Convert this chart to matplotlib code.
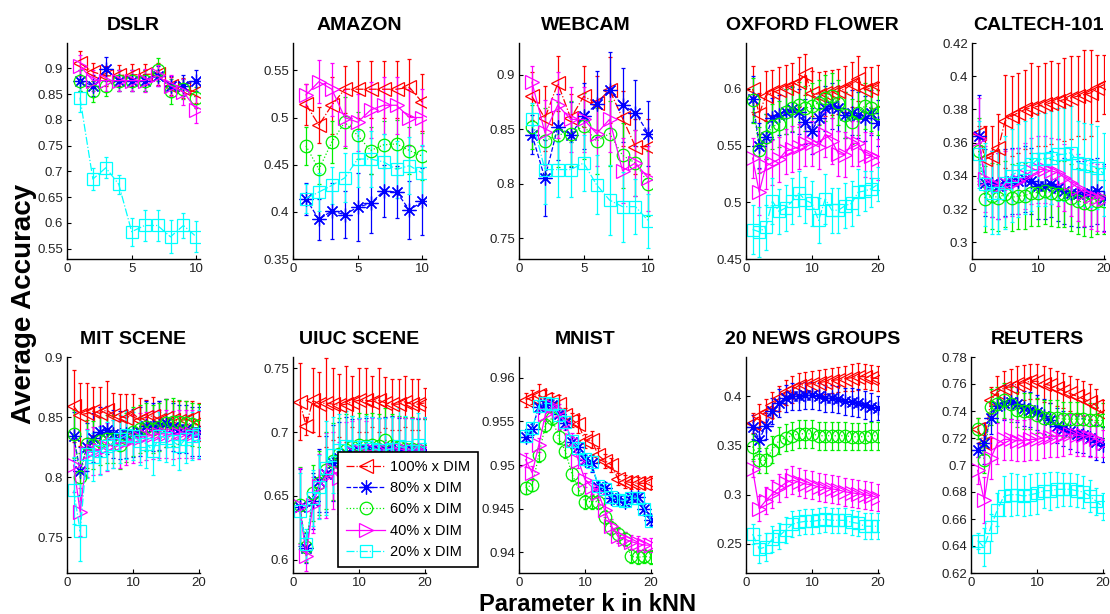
import matplotlib
matplotlib.use('Agg')
import matplotlib.pyplot as plt
from matplotlib.ticker import FormatStrFormatter
from matplotlib.lines import Line2D

plt.rcParams['font.family'] = ['Liberation Sans', 'DejaVu Sans']

# ---------------- data ----------------
K10 = [1, 2, 3, 4, 5, 6, 7, 8, 9, 10]
K20 = [1, 2, 3, 4, 5, 6, 7, 8, 9, 10, 11, 12, 13, 14, 15, 16, 17, 18, 19, 20]

series_labels = ['100% x DIM', '80% x DIM', '60% x DIM', '40% x DIM', '20% x DIM']
panel_titles = ['DSLR', 'AMAZON', 'WEBCAM', 'OXFORD FLOWER', 'CALTECH-101',
                'MIT SCENE', 'UIUC SCENE', 'MNIST', '20 NEWS GROUPS', 'REUTERS']

# DSLR
dslr_100 = [0.910, 0.893, 0.885, 0.886, 0.887, 0.888, 0.889, 0.866, 0.862, 0.853]
dslr_80 = [0.876, 0.866, 0.899, 0.876, 0.876, 0.876, 0.885, 0.865, 0.866, 0.876]
dslr_60 = [0.876, 0.855, 0.866, 0.876, 0.876, 0.876, 0.897, 0.855, 0.860, 0.843]
dslr_40 = [0.905, 0.876, 0.876, 0.876, 0.876, 0.876, 0.886, 0.866, 0.854, 0.820]
dslr_20 = [0.843, 0.685, 0.707, 0.675, 0.583, 0.595, 0.595, 0.573, 0.595, 0.573]
dslr_100_err = [0.024, 0.018, 0.020, 0.020, 0.022, 0.020, 0.022, 0.018, 0.020, 0.020]
dslr_80_err = [0.020, 0.020, 0.023, 0.020, 0.020, 0.020, 0.020, 0.020, 0.020, 0.020]
dslr_60_err = [0.020, 0.020, 0.020, 0.020, 0.020, 0.020, 0.022, 0.025, 0.020, 0.020]
dslr_40_err = [0.020, 0.020, 0.020, 0.020, 0.020, 0.022, 0.020, 0.020, 0.025, 0.027]
dslr_20_err = [0.028, 0.022, 0.020, 0.018, 0.027, 0.030, 0.030, 0.032, 0.025, 0.030]

# AMAZON
amazon_100 = [0.514, 0.492, 0.513, 0.530, 0.530, 0.530, 0.530, 0.530, 0.532, 0.516]
amazon_80 = [0.414, 0.392, 0.401, 0.397, 0.405, 0.409, 0.422, 0.421, 0.402, 0.411]
amazon_60 = [0.470, 0.445, 0.474, 0.495, 0.481, 0.465, 0.471, 0.472, 0.465, 0.459]
amazon_40 = [0.524, 0.538, 0.530, 0.500, 0.495, 0.508, 0.513, 0.513, 0.500, 0.500]
amazon_20 = [0.414, 0.421, 0.428, 0.436, 0.456, 0.456, 0.453, 0.445, 0.449, 0.441]
amazon_100_err = [0.022, 0.019, 0.030, 0.025, 0.030, 0.030, 0.030, 0.030, 0.030, 0.030]
amazon_80_err = [0.017, 0.022, 0.030, 0.025, 0.036, 0.031, 0.028, 0.028, 0.031, 0.036]
amazon_60_err = [0.020, 0.015, 0.022, 0.027, 0.025, 0.025, 0.025, 0.025, 0.025, 0.025]
amazon_40_err = [0.012, 0.023, 0.028, 0.030, 0.030, 0.030, 0.030, 0.030, 0.030, 0.030]
amazon_20_err = [0.015, 0.020, 0.020, 0.026, 0.030, 0.030, 0.030, 0.030, 0.030, 0.030]

# WEBCAM
webcam_100 = [0.880, 0.860, 0.892, 0.860, 0.880, 0.874, 0.886, 0.860, 0.834, 0.834]
webcam_80 = [0.845, 0.805, 0.852, 0.845, 0.862, 0.873, 0.886, 0.872, 0.865, 0.846]
webcam_60 = [0.852, 0.839, 0.845, 0.846, 0.853, 0.839, 0.846, 0.826, 0.819, 0.800]
webcam_40 = [0.893, 0.847, 0.872, 0.859, 0.859, 0.846, 0.859, 0.812, 0.819, 0.805]
webcam_20 = [0.859, 0.813, 0.813, 0.813, 0.819, 0.799, 0.785, 0.779, 0.779, 0.766]
webcam_100_err = [0.022, 0.030, 0.025, 0.022, 0.028, 0.025, 0.030, 0.025, 0.025, 0.025]
webcam_80_err = [0.018, 0.035, 0.030, 0.030, 0.030, 0.030, 0.035, 0.034, 0.030, 0.030]
webcam_60_err = [0.020, 0.030, 0.030, 0.030, 0.030, 0.030, 0.030, 0.030, 0.030, 0.030]
webcam_40_err = [0.015, 0.030, 0.030, 0.030, 0.030, 0.030, 0.030, 0.030, 0.030, 0.030]
webcam_20_err = [0.015, 0.032, 0.025, 0.025, 0.026, 0.027, 0.032, 0.032, 0.025, 0.025]

# OXFORD FLOWER
oxford_100 = [0.600, 0.578, 0.594, 0.597, 0.599, 0.601, 0.603, 0.606, 0.613, 0.596,
              0.595, 0.596, 0.597, 0.598, 0.600, 0.604, 0.609, 0.599, 0.601, 0.603]
oxford_80 = [0.591, 0.550, 0.558, 0.574, 0.577, 0.580, 0.582, 0.580, 0.571, 0.563,
             0.574, 0.583, 0.585, 0.583, 0.577, 0.579, 0.577, 0.574, 0.579, 0.570]
oxford_60 = [0.590, 0.546, 0.558, 0.567, 0.569, 0.580, 0.583, 0.586, 0.583, 0.585,
             0.588, 0.592, 0.594, 0.588, 0.577, 0.571, 0.579, 0.585, 0.583, 0.579]
oxford_40 = [0.539, 0.509, 0.532, 0.535, 0.538, 0.545, 0.547, 0.549, 0.552, 0.552,
             0.549, 0.560, 0.554, 0.543, 0.542, 0.552, 0.552, 0.542, 0.541, 0.538]
oxford_20 = [0.476, 0.474, 0.478, 0.501, 0.492, 0.495, 0.501, 0.508, 0.502, 0.499,
             0.484, 0.503, 0.493, 0.493, 0.497, 0.499, 0.509, 0.510, 0.512, 0.516]
oxford_100_err = [0.020, 0.018, 0.022, 0.020, 0.020, 0.020, 0.020, 0.022, 0.018, 0.020,
                  0.020, 0.020, 0.020, 0.020, 0.020, 0.020, 0.020, 0.020, 0.018, 0.018]
oxford_80_err = [0.020, 0.020, 0.020, 0.018, 0.018, 0.020, 0.020, 0.020, 0.020, 0.020,
                 0.020, 0.020, 0.020, 0.020, 0.020, 0.020, 0.020, 0.020, 0.020, 0.020]
oxford_60_err = [0.020, 0.020, 0.020, 0.020, 0.020, 0.020, 0.020, 0.020, 0.020, 0.020,
                 0.020, 0.020, 0.020, 0.020, 0.020, 0.020, 0.020, 0.020, 0.020, 0.020]
oxford_40_err = [0.018, 0.020, 0.020, 0.020, 0.020, 0.020, 0.020, 0.020, 0.020, 0.020,
                 0.020, 0.020, 0.020, 0.020, 0.020, 0.020, 0.020, 0.020, 0.020, 0.018]
oxford_20_err = [0.022, 0.022, 0.020, 0.020, 0.020, 0.020, 0.020, 0.020, 0.020, 0.020,
                 0.020, 0.022, 0.020, 0.020, 0.020, 0.020, 0.020, 0.018, 0.016, 0.015]

# CALTECH-101
caltech_100 = [0.366, 0.350, 0.352, 0.357, 0.373, 0.376, 0.378, 0.380, 0.381, 0.382,
               0.383, 0.384, 0.385, 0.386, 0.387, 0.388, 0.389, 0.390, 0.393, 0.395]
caltech_80 = [0.364, 0.336, 0.335, 0.334, 0.336, 0.337, 0.337, 0.338, 0.337, 0.334,
              0.334, 0.335, 0.333, 0.331, 0.330, 0.329, 0.329, 0.330, 0.331, 0.327]
caltech_60 = [0.355, 0.326, 0.328, 0.327, 0.329, 0.327, 0.328, 0.328, 0.330, 0.330,
              0.331, 0.330, 0.329, 0.329, 0.327, 0.325, 0.324, 0.323, 0.325, 0.325]
caltech_40 = [0.362, 0.338, 0.335, 0.334, 0.335, 0.336, 0.337, 0.340, 0.343, 0.344,
              0.344, 0.343, 0.342, 0.339, 0.336, 0.333, 0.330, 0.328, 0.327, 0.326]
caltech_20 = [0.353, 0.335, 0.330, 0.330, 0.336, 0.340, 0.343, 0.345, 0.347, 0.350,
              0.350, 0.351, 0.353, 0.353, 0.354, 0.348, 0.347, 0.346, 0.345, 0.341]
caltech_100_err = [0.004, 0.020, 0.018, 0.020, 0.028, 0.024, 0.024, 0.024, 0.027, 0.024,
                   0.025, 0.025, 0.023, 0.025, 0.025, 0.024, 0.027, 0.026, 0.020, 0.018]
caltech_80_err = [0.025, 0.020, 0.020, 0.020, 0.020, 0.020, 0.020, 0.020, 0.020, 0.020,
                  0.020, 0.020, 0.020, 0.020, 0.020, 0.020, 0.020, 0.020, 0.020, 0.020]
caltech_60_err = [0.020, 0.020, 0.020, 0.020, 0.020, 0.020, 0.020, 0.020, 0.020, 0.020,
                  0.020, 0.020, 0.020, 0.020, 0.020, 0.020, 0.020, 0.020, 0.020, 0.020]
caltech_40_err = [0.025, 0.020, 0.020, 0.020, 0.020, 0.020, 0.020, 0.020, 0.020, 0.020,
                  0.020, 0.020, 0.020, 0.020, 0.020, 0.020, 0.020, 0.020, 0.020, 0.020]
caltech_20_err = [0.020, 0.025, 0.025, 0.025, 0.028, 0.028, 0.028, 0.028, 0.028, 0.028,
                  0.028, 0.028, 0.028, 0.028, 0.028, 0.025, 0.025, 0.025, 0.025, 0.025]

# MIT SCENE
mit_100 = [0.859, 0.852, 0.853, 0.855, 0.853, 0.856, 0.852, 0.851, 0.849, 0.853,
           0.848, 0.850, 0.851, 0.848, 0.849, 0.848, 0.847, 0.848, 0.849, 0.846]
mit_80 = [0.834, 0.805, 0.825, 0.833, 0.838, 0.839, 0.836, 0.835, 0.836, 0.837,
          0.838, 0.843, 0.842, 0.843, 0.845, 0.842, 0.840, 0.840, 0.838, 0.838]
mit_60 = [0.836, 0.800, 0.828, 0.827, 0.830, 0.832, 0.832, 0.827, 0.833, 0.838,
          0.840, 0.842, 0.840, 0.842, 0.845, 0.846, 0.846, 0.845, 0.844, 0.843]
mit_40 = [0.810, 0.771, 0.820, 0.822, 0.823, 0.825, 0.828, 0.828, 0.830, 0.832,
          0.833, 0.834, 0.835, 0.836, 0.836, 0.835, 0.836, 0.836, 0.836, 0.835]
mit_20 = [0.789, 0.755, 0.819, 0.817, 0.822, 0.826, 0.828, 0.832, 0.835, 0.834,
          0.830, 0.828, 0.822, 0.834, 0.833, 0.830, 0.826, 0.832, 0.834, 0.836]
mit_100_err = [0.030, 0.026, 0.025, 0.020, 0.022, 0.024, 0.018, 0.018, 0.020, 0.016,
               0.018, 0.014, 0.016, 0.015, 0.016, 0.015, 0.016, 0.015, 0.014, 0.016]
mit_80_err = [0.020, 0.020, 0.020, 0.020, 0.020, 0.020, 0.020, 0.020, 0.020, 0.020,
              0.020, 0.020, 0.020, 0.020, 0.020, 0.020, 0.020, 0.020, 0.020, 0.020]
mit_60_err = [0.020, 0.020, 0.020, 0.020, 0.020, 0.020, 0.020, 0.020, 0.020, 0.020,
              0.020, 0.020, 0.020, 0.020, 0.020, 0.020, 0.018, 0.018, 0.018, 0.018]
mit_40_err = [0.022, 0.020, 0.020, 0.020, 0.020, 0.020, 0.020, 0.020, 0.020, 0.020,
              0.020, 0.020, 0.020, 0.020, 0.020, 0.020, 0.020, 0.020, 0.020, 0.020]
mit_20_err = [0.028, 0.025, 0.020, 0.020, 0.020, 0.020, 0.020, 0.020, 0.020, 0.020,
              0.020, 0.020, 0.020, 0.020, 0.020, 0.020, 0.020, 0.020, 0.020, 0.020]

# UIUC SCENE
uiuc_100 = [0.724, 0.705, 0.725, 0.722, 0.723, 0.722, 0.721, 0.722, 0.724, 0.725,
            0.725, 0.724, 0.725, 0.723, 0.722, 0.722, 0.724, 0.722, 0.722, 0.723]
uiuc_80 = [0.641, 0.609, 0.646, 0.662, 0.667, 0.676, 0.680, 0.684, 0.685, 0.686,
           0.686, 0.687, 0.686, 0.687, 0.688, 0.686, 0.686, 0.686, 0.685, 0.685]
uiuc_60 = [0.643, 0.610, 0.652, 0.660, 0.670, 0.677, 0.683, 0.686, 0.688, 0.690,
           0.689, 0.690, 0.689, 0.694, 0.689, 0.688, 0.687, 0.687, 0.686, 0.685]
uiuc_40 = [0.642, 0.603, 0.643, 0.658, 0.666, 0.670, 0.664, 0.680, 0.684, 0.685,
           0.684, 0.686, 0.686, 0.686, 0.687, 0.687, 0.686, 0.686, 0.686, 0.686]
uiuc_20 = [0.638, 0.612, 0.648, 0.657, 0.672, 0.682, 0.686, 0.689, 0.688, 0.686,
           0.688, 0.687, 0.686, 0.686, 0.687, 0.689, 0.688, 0.685, 0.690, 0.687]
uiuc_100_err = [0.030, 0.007, 0.025, 0.025, 0.035, 0.028, 0.025, 0.030, 0.020, 0.025,
                0.025, 0.020, 0.025, 0.020, 0.020, 0.020, 0.020, 0.020, 0.020, 0.012]
uiuc_80_err = [0.030, 0.012, 0.022, 0.025, 0.030, 0.030, 0.028, 0.028, 0.025, 0.025,
               0.025, 0.025, 0.025, 0.025, 0.025, 0.025, 0.025, 0.025, 0.025, 0.025]
uiuc_60_err = [0.030, 0.012, 0.022, 0.025, 0.030, 0.030, 0.028, 0.028, 0.025, 0.025,
               0.025, 0.025, 0.025, 0.025, 0.025, 0.025, 0.025, 0.025, 0.025, 0.025]
uiuc_40_err = [0.030, 0.012, 0.022, 0.025, 0.033, 0.030, 0.028, 0.028, 0.025, 0.025,
               0.025, 0.025, 0.025, 0.025, 0.025, 0.025, 0.025, 0.025, 0.025, 0.025]
uiuc_20_err = [0.030, 0.012, 0.022, 0.025, 0.037, 0.030, 0.028, 0.028, 0.025, 0.025,
               0.025, 0.025, 0.025, 0.025, 0.025, 0.030, 0.025, 0.025, 0.025, 0.025]

# MNIST
mnist_100 = [0.9575, 0.9578, 0.9580, 0.9576, 0.9573, 0.9570, 0.9557, 0.9552, 0.9547, 0.9528,
             0.9529, 0.9511, 0.9505, 0.9500, 0.9484, 0.9481, 0.9480, 0.9479, 0.9479, 0.9480]
mnist_80 = [0.9532, 0.9541, 0.9567, 0.9570, 0.9569, 0.9558, 0.9548, 0.9526, 0.9521, 0.9506,
            0.9502, 0.9475, 0.9474, 0.9462, 0.9461, 0.9458, 0.9463, 0.9463, 0.9449, 0.9437]
mnist_60 = [0.9474, 0.9477, 0.9511, 0.9546, 0.9554, 0.9532, 0.9516, 0.9490, 0.9473, 0.9458,
            0.9458, 0.9458, 0.9440, 0.9428, 0.9421, 0.9415, 0.9395, 0.9394, 0.9395, 0.9394]
mnist_40 = [0.9506, 0.9491, 0.9523, 0.9558, 0.9568, 0.9562, 0.9548, 0.9529, 0.9505, 0.9483,
            0.9475, 0.9468, 0.9448, 0.9430, 0.9418, 0.9415, 0.9412, 0.9410, 0.9408, 0.9408]
mnist_20 = [0.9533, 0.9542, 0.9568, 0.9571, 0.9570, 0.9557, 0.9549, 0.9527, 0.9520, 0.9507,
            0.9503, 0.9476, 0.9473, 0.9463, 0.9460, 0.9459, 0.9462, 0.9462, 0.9450, 0.9436]
mnist_100_err = [0.0008, 0.0008, 0.0013, 0.0010, 0.0010, 0.0010, 0.0008, 0.0008, 0.0010, 0.0008,
                 0.0010, 0.0008, 0.0008, 0.0008, 0.0007, 0.0007, 0.0007, 0.0007, 0.0007, 0.0007]
mnist_80_err = [0.0006, 0.0006, 0.0006, 0.0006, 0.0006, 0.0006, 0.0006, 0.0006, 0.0006, 0.0006,
                0.0010, 0.0006, 0.0006, 0.0006, 0.0006, 0.0006, 0.0006, 0.0006, 0.0006, 0.0006]
mnist_60_err = [0.0007, 0.0007, 0.0008, 0.0008, 0.0008, 0.0008, 0.0008, 0.0008, 0.0008, 0.0008,
                0.0008, 0.0008, 0.0008, 0.0008, 0.0008, 0.0008, 0.0008, 0.0008, 0.0008, 0.0008]
mnist_40_err = [0.0008, 0.0008, 0.0008, 0.0008, 0.0008, 0.0008, 0.0008, 0.0008, 0.0008, 0.0008,
                0.0008, 0.0008, 0.0008, 0.0008, 0.0008, 0.0008, 0.0008, 0.0008, 0.0008, 0.0008]
mnist_20_err = [0.0006, 0.0006, 0.0006, 0.0006, 0.0006, 0.0006, 0.0006, 0.0006, 0.0006, 0.0006,
                0.0010, 0.0006, 0.0006, 0.0006, 0.0006, 0.0006, 0.0006, 0.0006, 0.0006, 0.0006]

# 20 NEWS GROUPS
news_100 = [0.373, 0.380, 0.384, 0.391, 0.398, 0.404, 0.407, 0.411, 0.412, 0.413,
            0.414, 0.415, 0.416, 0.417, 0.418, 0.419, 0.420, 0.420, 0.419, 0.418]
news_80 = [0.369, 0.356, 0.370, 0.385, 0.393, 0.398, 0.400, 0.400, 0.401, 0.401,
           0.400, 0.398, 0.398, 0.397, 0.395, 0.394, 0.393, 0.391, 0.389, 0.388]
news_60 = [0.349, 0.335, 0.335, 0.346, 0.355, 0.358, 0.360, 0.362, 0.362, 0.362,
           0.360, 0.360, 0.360, 0.360, 0.360, 0.359, 0.359, 0.359, 0.360, 0.360]
news_40 = [0.326, 0.286, 0.294, 0.301, 0.307, 0.312, 0.315, 0.313, 0.311, 0.310,
           0.308, 0.307, 0.306, 0.305, 0.303, 0.302, 0.301, 0.300, 0.299, 0.297]
news_20 = [0.260, 0.245, 0.247, 0.255, 0.258, 0.264, 0.270, 0.272, 0.273, 0.273,
           0.274, 0.275, 0.274, 0.274, 0.274, 0.272, 0.271, 0.268, 0.268, 0.268]
news_100_err = [0.010, 0.012, 0.013, 0.013, 0.013, 0.013, 0.014, 0.013, 0.013, 0.013,
                0.013, 0.013, 0.013, 0.013, 0.013, 0.014, 0.014, 0.013, 0.013, 0.013]
news_80_err = [0.012, 0.012, 0.013, 0.013, 0.014, 0.014, 0.014, 0.014, 0.014, 0.014,
               0.014, 0.014, 0.014, 0.014, 0.014, 0.014, 0.014, 0.014, 0.014, 0.012]
news_60_err = [0.013, 0.013, 0.013, 0.014, 0.014, 0.014, 0.014, 0.014, 0.014, 0.014,
               0.014, 0.014, 0.014, 0.014, 0.014, 0.014, 0.014, 0.014, 0.014, 0.014]
news_40_err = [0.008, 0.013, 0.014, 0.014, 0.014, 0.014, 0.014, 0.014, 0.014, 0.014,
               0.014, 0.014, 0.014, 0.014, 0.014, 0.014, 0.014, 0.014, 0.014, 0.014]
news_20_err = [0.010, 0.014, 0.014, 0.013, 0.013, 0.013, 0.013, 0.013, 0.013, 0.013,
               0.013, 0.013, 0.013, 0.013, 0.013, 0.013, 0.013, 0.013, 0.013, 0.013]

# REUTERS
reuters_100 = [0.727, 0.716, 0.748, 0.754, 0.757, 0.758, 0.760, 0.761, 0.762, 0.762,
               0.760, 0.759, 0.757, 0.755, 0.753, 0.751, 0.749, 0.747, 0.744, 0.738]
reuters_80 = [0.711, 0.716, 0.735, 0.744, 0.746, 0.747, 0.745, 0.742, 0.741, 0.739,
              0.736, 0.733, 0.729, 0.727, 0.725, 0.723, 0.722, 0.720, 0.717, 0.715]
reuters_60 = [0.727, 0.704, 0.743, 0.745, 0.748, 0.745, 0.741, 0.740, 0.740, 0.737,
              0.735, 0.735, 0.735, 0.734, 0.734, 0.734, 0.734, 0.733, 0.733, 0.733]
reuters_40 = [0.696, 0.674, 0.705, 0.716, 0.719, 0.719, 0.718, 0.718, 0.719, 0.719,
              0.720, 0.721, 0.721, 0.722, 0.723, 0.722, 0.722, 0.721, 0.719, 0.716]
reuters_20 = [0.644, 0.639, 0.654, 0.667, 0.677, 0.678, 0.678, 0.677, 0.678, 0.679,
              0.681, 0.681, 0.682, 0.682, 0.682, 0.681, 0.680, 0.677, 0.673, 0.669]
reuters_100_err = [0.008, 0.008, 0.010, 0.012, 0.013, 0.013, 0.013, 0.013, 0.013, 0.013,
                   0.013, 0.013, 0.013, 0.013, 0.013, 0.013, 0.013, 0.013, 0.012, 0.010]
reuters_80_err = [0.005, 0.015, 0.012, 0.012, 0.013, 0.013, 0.013, 0.013, 0.013, 0.013,
                  0.013, 0.013, 0.013, 0.013, 0.013, 0.013, 0.013, 0.013, 0.013, 0.013]
reuters_60_err = [0.008, 0.010, 0.013, 0.013, 0.013, 0.013, 0.013, 0.013, 0.013, 0.013,
                  0.013, 0.013, 0.013, 0.013, 0.013, 0.013, 0.013, 0.013, 0.013, 0.013]
reuters_40_err = [0.010, 0.017, 0.015, 0.015, 0.015, 0.015, 0.015, 0.015, 0.015, 0.015,
                  0.015, 0.015, 0.015, 0.015, 0.015, 0.015, 0.015, 0.015, 0.013, 0.010]
reuters_20_err = [0.006, 0.014, 0.010, 0.012, 0.015, 0.016, 0.015, 0.015, 0.015, 0.015,
                  0.013, 0.014, 0.013, 0.012, 0.012, 0.012, 0.012, 0.012, 0.010, 0.010]

# axis configuration per panel
panel_k = [K10, K10, K10, K20, K20, K20, K20, K20, K20, K20]
panel_series = [
    [dslr_100, dslr_80, dslr_60, dslr_40, dslr_20],
    [amazon_100, amazon_80, amazon_60, amazon_40, amazon_20],
    [webcam_100, webcam_80, webcam_60, webcam_40, webcam_20],
    [oxford_100, oxford_80, oxford_60, oxford_40, oxford_20],
    [caltech_100, caltech_80, caltech_60, caltech_40, caltech_20],
    [mit_100, mit_80, mit_60, mit_40, mit_20],
    [uiuc_100, uiuc_80, uiuc_60, uiuc_40, uiuc_20],
    [mnist_100, mnist_80, mnist_60, mnist_40, mnist_20],
    [news_100, news_80, news_60, news_40, news_20],
    [reuters_100, reuters_80, reuters_60, reuters_40, reuters_20],
]
panel_errors = [
    [dslr_100_err, dslr_80_err, dslr_60_err, dslr_40_err, dslr_20_err],
    [amazon_100_err, amazon_80_err, amazon_60_err, amazon_40_err, amazon_20_err],
    [webcam_100_err, webcam_80_err, webcam_60_err, webcam_40_err, webcam_20_err],
    [oxford_100_err, oxford_80_err, oxford_60_err, oxford_40_err, oxford_20_err],
    [caltech_100_err, caltech_80_err, caltech_60_err, caltech_40_err, caltech_20_err],
    [mit_100_err, mit_80_err, mit_60_err, mit_40_err, mit_20_err],
    [uiuc_100_err, uiuc_80_err, uiuc_60_err, uiuc_40_err, uiuc_20_err],
    [mnist_100_err, mnist_80_err, mnist_60_err, mnist_40_err, mnist_20_err],
    [news_100_err, news_80_err, news_60_err, news_40_err, news_20_err],
    [reuters_100_err, reuters_80_err, reuters_60_err, reuters_40_err, reuters_20_err],
]
xticks_small = [0, 5, 10]
xticks_large = [0, 10, 20]
panel_xticks = [xticks_small] * 3 + [xticks_large] * 7
panel_ylim = [(0.53, 0.949), (0.35, 0.579), (0.731, 0.929), (0.45, 0.6405), (0.29, 0.42),
              (0.7203, 0.9), (0.5895, 0.759), (0.9376, 0.9624), (0.2205, 0.44), (0.62, 0.78)]
panel_yticks = [
    [0.55, 0.6, 0.65, 0.7, 0.75, 0.8, 0.85, 0.9],
    [0.35, 0.4, 0.45, 0.5, 0.55],
    [0.75, 0.8, 0.85, 0.9],
    [0.45, 0.5, 0.55, 0.6],
    [0.3, 0.32, 0.34, 0.36, 0.38, 0.4, 0.42],
    [0.75, 0.8, 0.85, 0.9],
    [0.6, 0.65, 0.7, 0.75],
    [0.94, 0.945, 0.95, 0.955, 0.96],
    [0.25, 0.3, 0.35, 0.4],
    [0.62, 0.64, 0.66, 0.68, 0.7, 0.72, 0.74, 0.76, 0.78],
]

# ---------------- style ----------------
colors = ['#ff0000', '#0000ff', '#00ee00', '#ff00ff', '#00ffff']
markers = ['<', (8, 2, 0), 'o', '>', 's']
msizes = [10, 10, 9, 10, 8]
lstyles = ['-.', '--', ':', '-', '-.']

FW, FH = 1110, 614
fig = plt.figure(figsize=(FW / 100, FH / 100), dpi=100)
lefts = [[67, 293, 519, 746, 972], [67, 293, 519, 746, 971]]
tops = [43, 357]
AW, AH = 133, 216

for i in range(10):
    row, col = divmod(i, 5)
    left = lefts[row][col]
    top = tops[row]
    ax = fig.add_axes([left / FW, 1 - (top + AH) / FH, AW / FW, AH / FH])
    k = panel_k[i]
    for s in range(5):
        ax.errorbar(k, panel_series[i][s], yerr=panel_errors[i][s],
                    color=colors[s], ls=lstyles[s], lw=0.9,
                    marker=markers[s], ms=msizes[s], mfc='none', mec=colors[s], mew=0.9,
                    elinewidth=0.9, capsize=1.5, capthick=0.9)
    xmax = 10.28 if k is K10 else 20.15
    ax.set_xlim(0, xmax)
    ax.set_ylim(*panel_ylim[i])
    ax.set_xticks(panel_xticks[i])
    ax.set_yticks(panel_yticks[i])
    ax.yaxis.set_major_formatter(FormatStrFormatter('%g'))
    ax.spines['top'].set_visible(False)
    ax.spines['right'].set_visible(False)
    ax.spines['left'].set_linewidth(1.0)
    ax.spines['bottom'].set_linewidth(1.0)
    ax.tick_params(direction='in', length=3, width=0.8, labelsize=9.5,
                   labelcolor='#222222', pad=3)
    ax.set_title(panel_titles[i], fontsize=14, fontweight='bold', pad=9)

handles = [Line2D([], [], color=colors[s], ls=lstyles[s], lw=0.9, marker=markers[s],
                  ms=msizes[s], mfc='none', mec=colors[s], mew=0.9) for s in range(5)]
leg = fig.legend(handles, series_labels, loc='lower left',
                 bbox_to_anchor=(338 / FW, 1 - 567 / FH), bbox_transform=fig.transFigure,
                 borderaxespad=0, frameon=True, fancybox=False, framealpha=1,
                 edgecolor='black', fontsize=10.5, handlelength=2.7,
                 handletextpad=0.3, labelspacing=0.5, borderpad=0.55)
leg.get_frame().set_linewidth(1.2)

fig.text(24 / FW, 1 - 304 / FH, 'Average Accuracy', rotation=90, fontsize=20,
         fontweight='bold', ha='center', va='center')
fig.text(588 / FW, 1 - 611 / FH, 'Parameter k in kNN', fontsize=17,
         fontweight='bold', ha='center', va='baseline')

fig.savefig('out.png', dpi=100)
